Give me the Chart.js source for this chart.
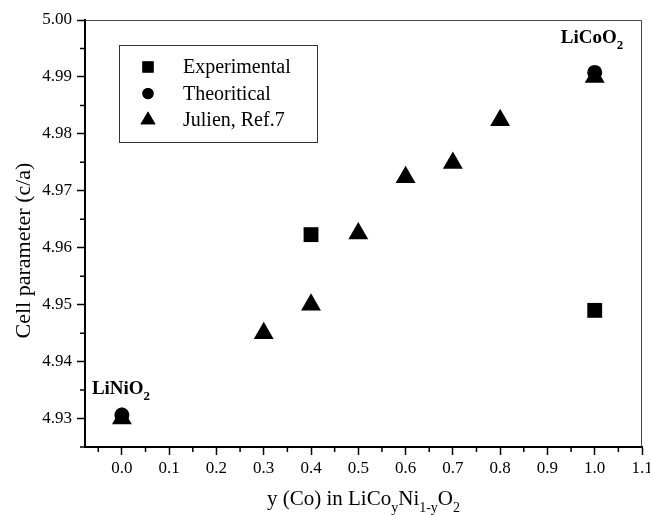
<!DOCTYPE html>
<html>
<head>
<meta charset="utf-8">
<script src="https://cdn.jsdelivr.net/npm/chart.js@4"></script>
<style>
  html, body { margin: 0; padding: 0; background: #fff; }
  #wrap { width: 650px; height: 515px; }
</style>
</head>
<body>
<div id="wrap"><canvas id="cellChart"></canvas></div>
<script>
const serif = "'Liberation Serif', 'Times New Roman', serif";

// data
const expX = [0.4, 1.0];
const expY = [4.9623, 4.9490];
const theoX = [0.0, 1.0];
const theoY = [4.9306, 4.9908];
const julienX = [0.0, 0.3, 0.4, 0.5, 0.6, 0.7, 0.8, 1.0];
const julienY = [4.9300, 4.9450, 4.9500, 4.9625, 4.9724, 4.9749, 4.9824, 4.9900];

const xTicks = [0.0, 0.1, 0.2, 0.3, 0.4, 0.5, 0.6, 0.7, 0.8, 0.9, 1.0, 1.1];
const yTicks = [4.93, 4.94, 4.95, 4.96, 4.97, 4.98, 4.99, 5.00];
const xMinor = [-0.05, 0.05, 0.15, 0.25, 0.35, 0.45, 0.55, 0.65, 0.75, 0.85, 0.95, 1.05];
const yMinor = [4.925, 4.935, 4.945, 4.955, 4.965, 4.975, 4.985, 4.995];

const toPoints = (xs, ys) => xs.map((x, i) => ({ x: x, y: ys[i] }));

// draws text with subscripts, parts = [[text, isSub], ...]
const drawRich = (ctx, parts, x, y, size, bold, align) => {
    const big = (bold ? 'bold ' : '') + size + 'px ' + serif;
    const small = (bold ? 'bold ' : '') + Math.round(size * 0.68) + 'px ' + serif;
    let total = 0;
    parts.forEach(p => {
        ctx.font = p[1] ? small : big;
        total += ctx.measureText(p[0]).width;
    });
    let cx = align === 'center' ? x - total / 2 : x;
    ctx.textAlign = 'left';
    ctx.textBaseline = 'alphabetic';
    parts.forEach(p => {
        ctx.font = p[1] ? small : big;
        ctx.fillText(p[0], cx, p[1] ? y + size * 0.32 : y);
        cx += ctx.measureText(p[0]).width;
    });
};

const extras = {
    id: 'extras',
    afterDraw(chart) {
        const ctx = chart.ctx;
        const xs = chart.scales.x, ys = chart.scales.y;
        const a = chart.chartArea;
        ctx.save();
        ctx.fillStyle = '#000';

        // frame top / right
        ctx.lineWidth = 1;
        ctx.strokeStyle = '#444';
        ctx.beginPath();
        ctx.moveTo(a.left, a.top + 0.5);
        ctx.lineTo(a.right - 0.5, a.top + 0.5);
        ctx.lineTo(a.right - 0.5, a.bottom);
        ctx.stroke();

        // minor ticks
        ctx.strokeStyle = '#000';
        ctx.lineWidth = 1.5;
        ctx.beginPath();
        xMinor.forEach(v => {
            const px = xs.getPixelForValue(v);
            ctx.moveTo(px, a.bottom);
            ctx.lineTo(px, a.bottom + 5);
        });
        yMinor.forEach(v => {
            const py = ys.getPixelForValue(v);
            ctx.moveTo(a.left, py);
            ctx.lineTo(a.left - 5, py);
        });
        ctx.stroke();

        // x tick labels (drawn here so the last one may run to the edge)
        ctx.font = '17px ' + serif;
        ctx.textAlign = 'center';
        ctx.textBaseline = 'top';
        xTicks.forEach(v => {
            ctx.fillText(v.toFixed(1), xs.getPixelForValue(v), a.bottom + 13);
        });

        // compound labels next to end points
        drawRich(ctx, [['LiNiO', false], ['2', true]],
            xs.getPixelForValue(theoX[0]) - 30, ys.getPixelForValue(theoY[0]) - 21, 19, true, 'left');
        drawRich(ctx, [['LiCoO', false], ['2', true]],
            xs.getPixelForValue(theoX[1]) - 34, ys.getPixelForValue(theoY[1]) - 29, 19, true, 'left');

        // axis titles
        drawRich(ctx, [['y (Co) in LiCo', false], ['y', true], ['Ni', false], ['1-y', true], ['O', false], ['2', true]],
            (a.left + a.right) / 2, 505, 21, false, 'center');
        ctx.save();
        ctx.translate(24, (a.top + a.bottom) / 2 + 17);
        ctx.rotate(-Math.PI / 2);
        ctx.font = '22px ' + serif;
        ctx.textAlign = 'center';
        ctx.textBaseline = 'middle';
        ctx.fillText('Cell parameter (c/a)', 0, 0);
        ctx.restore();

        // legend box
        const lx = 119, ly = 45, lw = 198, lh = 97;
        ctx.lineWidth = 1;
        ctx.strokeStyle = '#333';
        ctx.strokeRect(lx + 0.5, ly + 0.5, lw, lh);
        ctx.font = '20px ' + serif;
        ctx.textAlign = 'left';
        ctx.textBaseline = 'middle';
        chart.data.datasets.forEach((ds, i) => {
            const rowY = ly + 22 + i * 26.5;
            Chart.helpers.drawPoint(ctx, {
                pointStyle: ds.pointStyle,
                radius: ds.pointRadius * 0.75,
                rotation: 0,
                borderWidth: 0
            }, lx + 29, rowY);
            ctx.fill();
            ctx.fillText(ds.label, lx + 64, rowY + 1);
        });
        ctx.restore();
    }
};

const ctx = document.getElementById('cellChart').getContext('2d');
new Chart(ctx, {
    type: 'scatter',
    data: {
        datasets: [
            {
                label: 'Experimental',
                data: toPoints(expX, expY),
                pointStyle: 'rect',
                pointRadius: 10.5,
                backgroundColor: '#000',
                borderWidth: 0
            },
            {
                label: 'Theoritical',
                data: toPoints(theoX, theoY),
                pointStyle: 'circle',
                pointRadius: 7.5,
                backgroundColor: '#000',
                borderWidth: 0
            },
            {
                label: 'Julien, Ref.7',
                data: toPoints(julienX, julienY),
                pointStyle: 'triangle',
                pointRadius: 11.5,
                backgroundColor: '#000',
                borderWidth: 0
            }
        ]
    },
    options: {
        responsive: true,
        maintainAspectRatio: false,
        animation: false,
        layout: { autoPadding: false, padding: { top: 20, right: 8, left: 0, bottom: 0 } },
        plugins: {
            legend: { display: false },
            tooltip: { enabled: false }
        },
        scales: {
            x: {
                type: 'linear',
                min: -0.078,
                max: 1.1,
                afterBuildTicks: s => { s.ticks = xTicks.map(v => ({ value: v })); },
                afterFit: s => { s.height = 68; },
                ticks: { display: false },
                grid: { drawOnChartArea: false, tickLength: 8, tickColor: '#000', tickWidth: 1.5 },
                border: { color: '#000', width: 2 }
            },
            y: {
                type: 'linear',
                min: 4.925,
                max: 5.0,
                afterBuildTicks: s => { s.ticks = yTicks.map(v => ({ value: v })); },
                afterFit: s => { s.width = 85; s.paddingTop = 0; s.paddingBottom = 0; },
                ticks: {
                    color: '#000',
                    font: { family: serif, size: 17 },
                    padding: 5,
                    callback: v => v.toFixed(2)
                },
                grid: { drawOnChartArea: false, tickLength: 8, tickColor: '#000', tickWidth: 1.5 },
                border: { color: '#000', width: 2 }
            }
        }
    },
    plugins: [extras]
});
</script>
</body>
</html>
